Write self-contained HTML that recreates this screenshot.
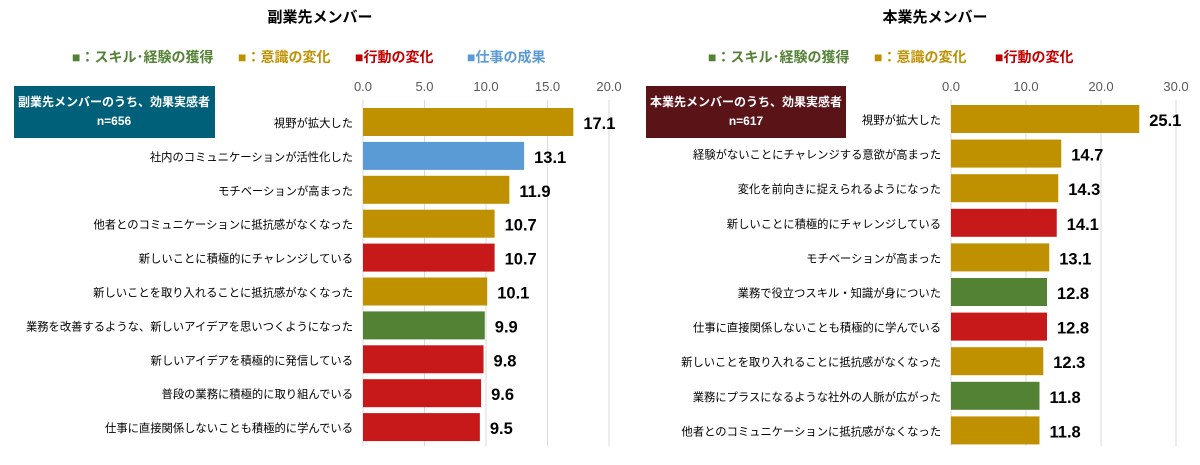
<!DOCTYPE html>
<html><head><meta charset="utf-8">
<style>
body{margin:0;background:#fff;font-family:"Liberation Sans","Noto Sans CJK JP",sans-serif;}
svg text{font-family:"Liberation Sans","Noto Sans CJK JP",sans-serif;}
</style></head>
<body>
<svg id="c" width="1200" height="460" xmlns="http://www.w3.org/2000/svg">
<text x="320" y="22" text-anchor="middle" font-size="15" font-weight="bold" fill="#000">副業先メンバー</text>
<text x="935" y="22" text-anchor="middle" font-size="15" font-weight="bold" fill="#000">本業先メンバー</text>
<g font-size="14" font-weight="bold">
<text x="72" y="62" fill="#548235">■：スキル･経験の獲得</text>
<text x="238" y="62" fill="#BF9000">■：意識の変化</text>
<text x="355" y="62" fill="#C00000">■行動の変化</text>
<text x="467" y="62" fill="#5B9BD5">■仕事の成果</text>
</g>
<g font-size="14" font-weight="bold">
<text x="708" y="62" fill="#548235">■：スキル･経験の獲得</text>
<text x="874" y="62" fill="#BF9000">■：意識の変化</text>
<text x="995" y="62" fill="#C00000">■行動の変化</text>
</g>
<rect x="14" y="86" width="201" height="52" fill="#00607A"/>
<text x="114" y="106" text-anchor="middle" font-size="12" font-weight="bold" fill="#fff">副業先メンバーのうち、効果実感者</text>
<text x="114" y="125" text-anchor="middle" font-size="12" font-weight="bold" fill="#fff">n=656</text>
<rect x="646" y="86" width="200" height="52" fill="#5A1418"/>
<text x="746" y="106" text-anchor="middle" font-size="12" font-weight="bold" fill="#fff">本業先メンバーのうち、効果実感者</text>
<text x="746" y="125" text-anchor="middle" font-size="12" font-weight="bold" fill="#fff">n=617</text>
<g id="L"></g><g id="R"></g>
</svg>
<script>
const leftCats=["視野が拡大した","社内のコミュニケーションが活性化した","モチベーションが高まった","他者とのコミュニケーションに抵抗感がなくなった","新しいことに積極的にチャレンジしている","新しいことを取り入れることに抵抗感がなくなった","業務を改善するような、新しいアイデアを思いつくようになった","新しいアイデアを積極的に発信している","普段の業務に積極的に取り組んでいる","仕事に直接関係しないことも積極的に学んでいる"];
const leftVals=[17.1,13.1,11.9,10.7,10.7,10.1,9.9,9.8,9.6,9.5];
const leftTypes=["a","r","a","a","c","a","s","c","c","c"];
const leftTicks=[0,5,10,15,20];
const rightCats=["視野が拡大した","経験がないことにチャレンジする意欲が高まった","変化を前向きに捉えられるようになった","新しいことに積極的にチャレンジしている","モチベーションが高まった","業務で役立つスキル・知識が身についた","仕事に直接関係しないことも積極的に学んでいる","新しいことを取り入れることに抵抗感がなくなった","業務にプラスになるような社外の人脈が広がった","他者とのコミュニケーションに抵抗感がなくなった"];
const rightVals=[25.1,14.7,14.3,14.1,13.1,12.8,12.8,12.3,11.8,11.8];
const rightTypes=["a","a","a","c","a","s","c","a","s","a"];
const rightTicks=[0,10,20,30];
const colors={a:"#BF9000",r:"#5B9BD5",c:"#C8191A",s:"#548235"};
const NS="http://www.w3.org/2000/svg";
function mk(g,tag,at){const e=document.createElementNS(NS,tag);for(const k in at)e.setAttribute(k,at[k]);g.appendChild(e);return e;}
function draw(gid,cats,vals,types,ticks,x0,x1,y0,step,side){
  const g=document.getElementById(gid);
  const max=ticks[ticks.length-1];
  const sx=v=>x0+(x1-x0)*v/max;
  const sy=i=>y0+i*step;
  ticks.forEach(t=>{
    const l=mk(g,"line",{x1:sx(t),x2:sx(t),y1:100,y2:446,stroke:"#d9d9d9","stroke-width":1});
    
    
    const tx=mk(g,"text",{x:sx(t),y:91,"text-anchor":"middle","font-size":13,fill:"#595959"});
    tx.textContent=t.toFixed(1);
    
    
  });
  cats.forEach((c,i)=>{
    const cy=sy(i);
    const r=mk(g,"rect",{x:x0,y:cy-14,width:sx(vals[i])-x0,height:28,fill:colors[types[i]]});
    
    
    const lb=mk(g,"text",{x:x0-10,y:cy+5,"text-anchor":"end","font-size":11.3,fill:"#000"});
    lb.textContent=c;
    
    
    const v=mk(g,"text",{x:sx(vals[i])+10,y:cy+7,"font-size":16.5,"font-weight":"bold",fill:"#000"});
    v.textContent=vals[i].toFixed(1);
    
    
  });
}
draw("L",leftCats,leftVals,leftTypes,leftTicks,363,609,122,33.9,"left");
draw("R",rightCats,rightVals,rightTypes,rightTicks,951,1176,119,34.6,"right");
</script>
</body></html>
